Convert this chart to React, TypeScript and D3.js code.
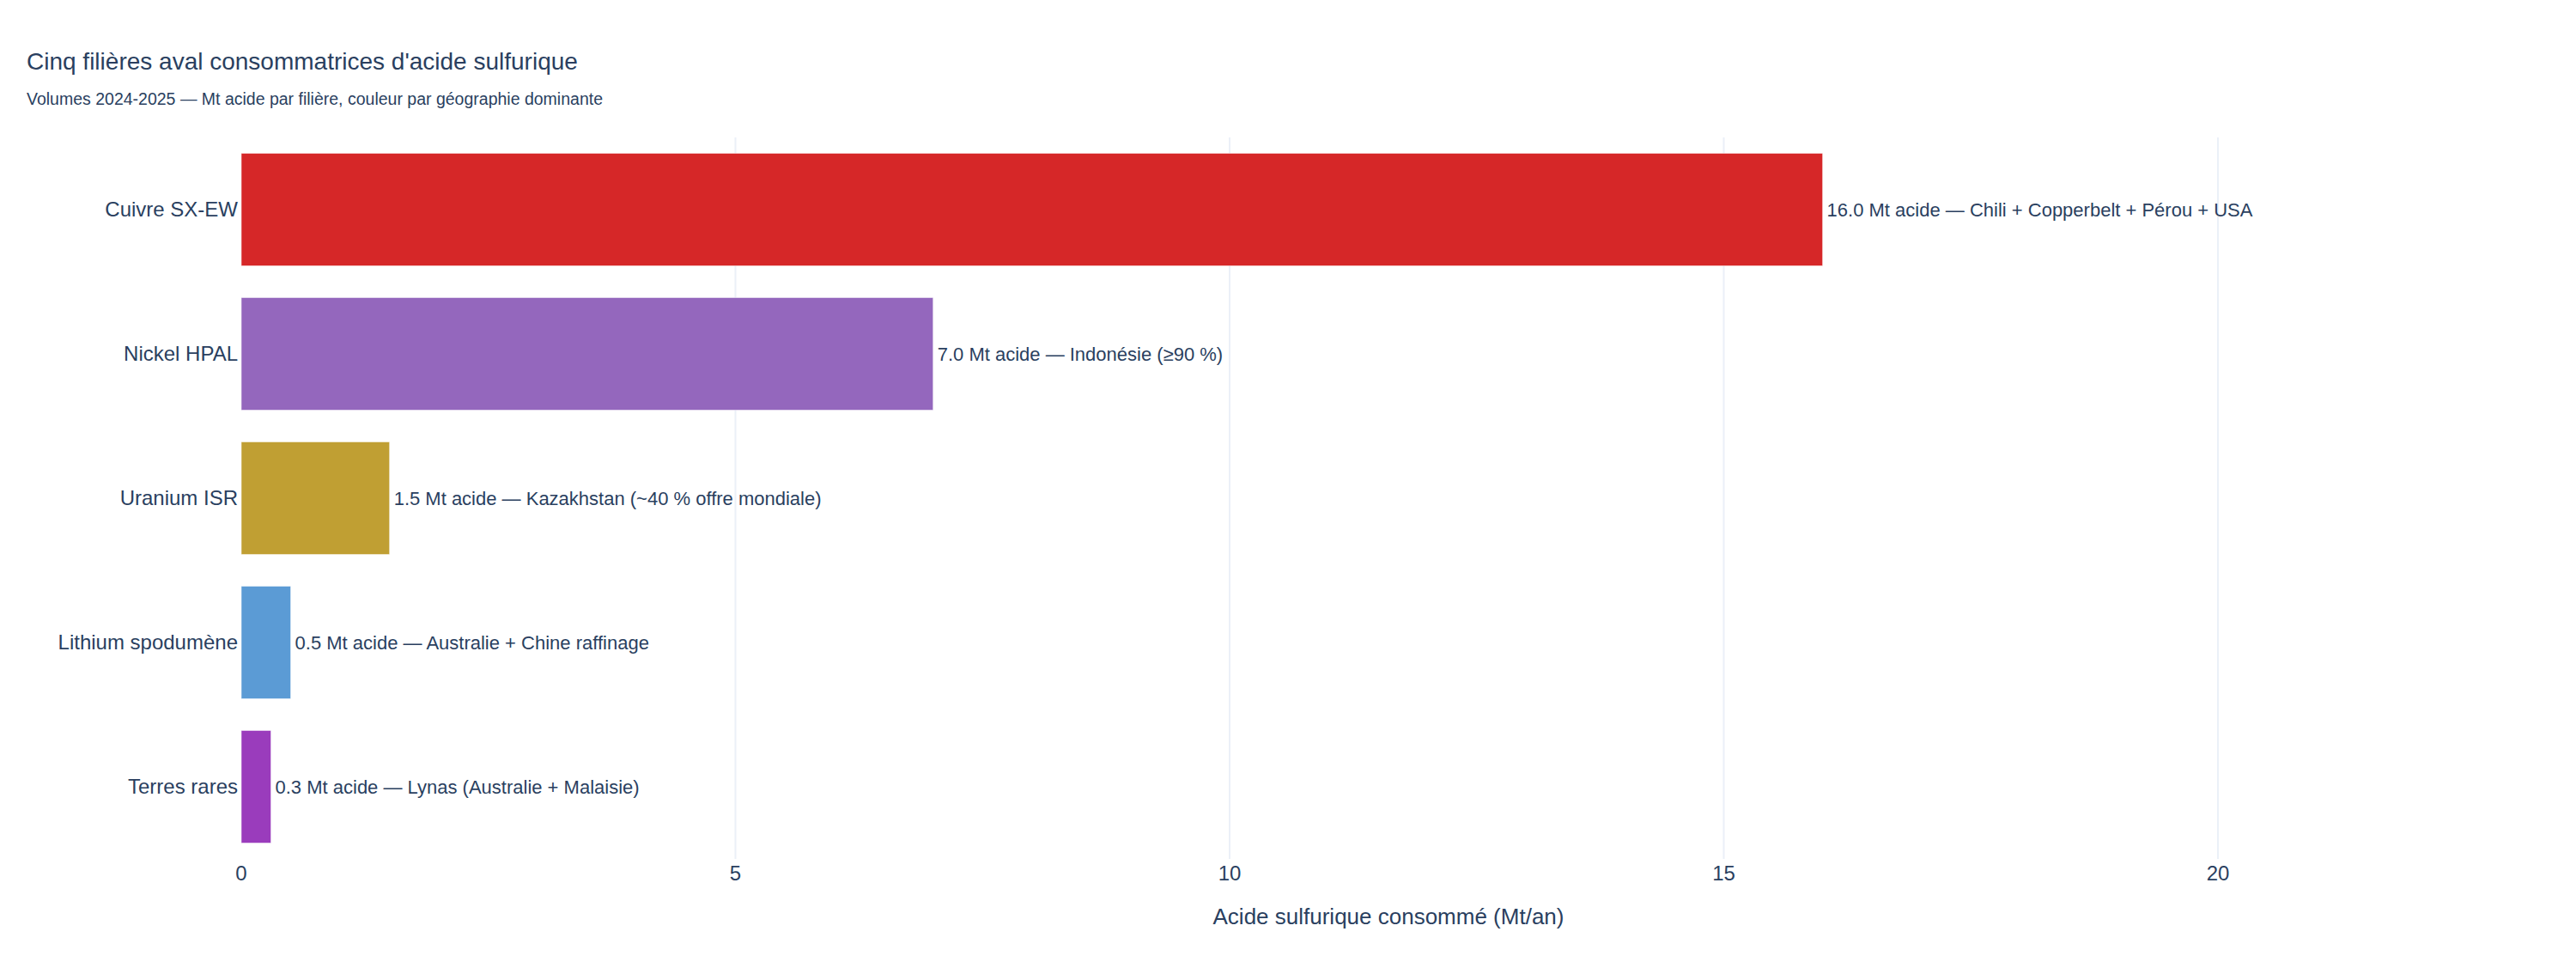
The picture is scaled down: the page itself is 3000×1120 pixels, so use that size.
import { scaleLinear, scaleBand } from "d3";

const categories = [
  "Cuivre SX-EW",
  "Nickel HPAL",
  "Uranium ISR",
  "Lithium spodumène",
  "Terres rares",
];
const values = [16.0, 7.0, 1.5, 0.5, 0.3];
const geographies = [
  "Chili + Copperbelt + Pérou + USA",
  "Indonésie (≥90 %)",
  "Kazakhstan (~40 % offre mondiale)",
  "Australie + Chine raffinage",
  "Lynas (Australie + Malaisie)",
];
const colors = ["#d62728", "#9467bd", "#c09f33", "#5b9bd5", "#9a3cbc"];
const xTicks = [0, 5, 10, 15, 20];

const W = 3000;
const H = 1120;
const margin = { top: 160, right: 47, bottom: 120, left: 281 };
const textColor = "#2a3f5f";
const font = "'Liberation Sans', Arial, Helvetica, sans-serif";

export default function App() {
  const plotRight = W - margin.right;
  const x = scaleLinear()
    .domain([0, 20])
    .range([margin.left, 2583]);
  const y = scaleBand<string>()
    .domain(categories)
    .range([margin.top, H - margin.bottom])
    .paddingInner(0.22)
    .paddingOuter(0.11);

  const plotBottom = H - margin.bottom;

  return (
    <div style={{ position: "absolute", left: 0, top: 0 }}>
      <svg width={W} height={H} style={{ display: "block", background: "#fff" }} fontFamily={font}>
        {/* title */}
        <text x={31} y={81} fontSize={28} fill={textColor}>
          Cinq filières aval consommatrices d'acide sulfurique
        </text>
        <text x={31} y={122} fontSize={19.5} fill={textColor}>
          Volumes 2024-2025 — Mt acide par filière, couleur par géographie dominante
        </text>

        {/* grid */}
        {xTicks
          .filter((t) => t !== 0)
          .map((t) => (
            <line
              key={t}
              x1={x(t)}
              x2={x(t)}
              y1={margin.top}
              y2={plotBottom}
              stroke="#ebf0f8"
              strokeWidth={2}
            />
          ))}

        {/* bars */}
        {categories.map((c, i) => (
          <rect
            key={c}
            x={x(0)}
            y={y(c)}
            width={x(values[i]) - x(0)}
            height={y.bandwidth()}
            fill={colors[i]}
            stroke="#ffffff"
            strokeOpacity={0.5}
            strokeWidth={1}
          />
        ))}

        {/* bar labels */}
        {categories.map((c, i) => (
          <text
            key={c}
            x={x(values[i]) + 5}
            y={(y(c) ?? 0) + y.bandwidth() / 2}
            dy="0.35em"
            fontSize={22}
            fill={textColor}
          >
            {`${values[i].toFixed(1)} Mt acide — ${geographies[i]}`}
          </text>
        ))}

        {/* y axis labels */}
        {categories.map((c) => (
          <text
            key={c}
            x={x(0) - 4}
            y={(y(c) ?? 0) + y.bandwidth() / 2}
            dy="0.35em"
            textAnchor="end"
            fontSize={24}
            fill={textColor}
          >
            {c}
          </text>
        ))}

        {/* x axis labels */}
        {xTicks.map((t) => (
          <text
            key={t}
            x={x(t)}
            y={1025}
            textAnchor="middle"
            fontSize={24}
            fill={textColor}
          >
            {t}
          </text>
        ))}
        <text
          x={(margin.left + plotRight) / 2}
          y={1076}
          textAnchor="middle"
          fontSize={26}
          fill={textColor}
        >
          Acide sulfurique consommé (Mt/an)
        </text>
      </svg>
    </div>
  );
}
